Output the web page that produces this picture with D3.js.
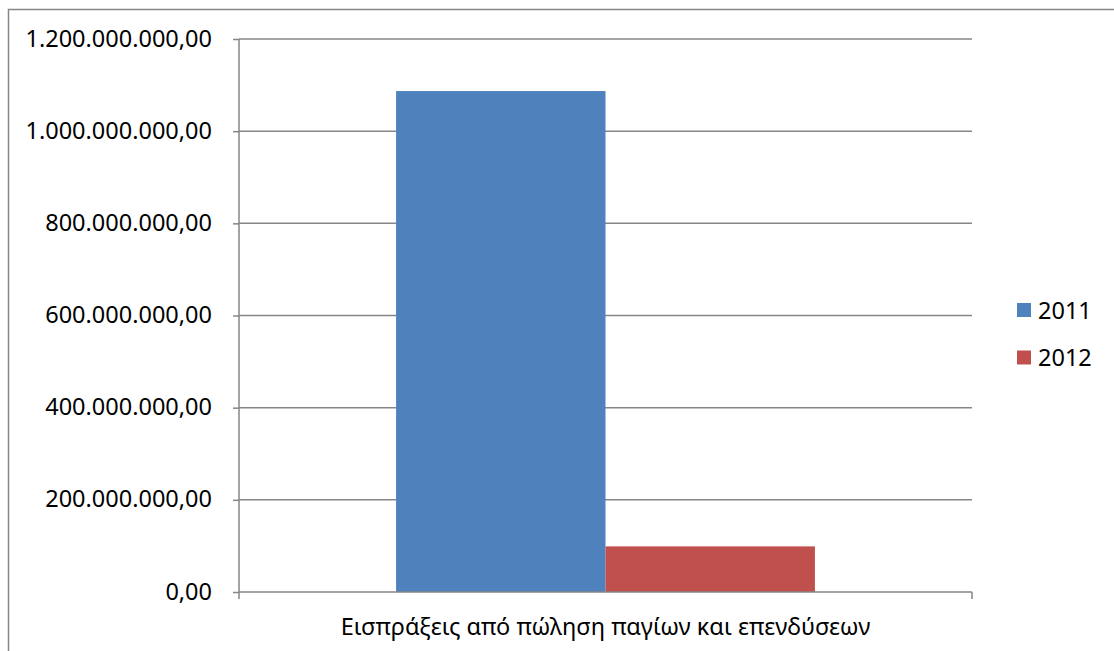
<!DOCTYPE html>
<html>
<head>
<meta charset="utf-8">
<script src="https://cdn.jsdelivr.net/npm/d3@7"></script>
<style>
  html, body { margin: 0; padding: 0; background: #fff; }
  svg { display: block; }
  text { font-family: "Noto Sans", "Open Sans", sans-serif; fill: #000; }
</style>
</head>
<body>
<svg id="chart" width="1114" height="651"></svg>
<script>
// Data
const categories = ["Εισπράξεις από πώληση παγίων και επενδύσεων"];
const seriesNames = ["2011", "2012"];
const seriesColors = ["#4F81BD", "#C0504D"];
const values2011 = [1087000000];
const values2012 = [99000000];
const yTicks = [0, 200000000, 400000000, 600000000, 800000000, 1000000000, 1200000000];

const seriesValues = [values2011, values2012];

const svg = d3.select("#chart");
const W = 1114, H = 651;
const FONT_SIZE = "23.5px";

// Outer chart frame (extends past the right and bottom edges)
svg.append("rect")
  .attr("x", 8.5).attr("y", 9.5)
  .attr("width", W + 20).attr("height", H + 20)
  .attr("fill", "#fff")
  .attr("stroke", "#868686").attr("stroke-width", 1.5);

const plot = { left: 239, right: 972, top: 39, bottom: 592 };

// Greek number format: "." for thousands, "," for decimals
const fmt = v => {
  const s = d3.format(",.2f")(v);
  return s.replace(/,/g, "#").replace(/\./g, ",").replace(/#/g, ".");
};

const y = d3.scaleLinear().domain([0, 1200000000]).range([plot.bottom, plot.top]);
const x0 = d3.scaleBand().domain(categories).range([plot.left, plot.right]).paddingInner(0).paddingOuter(0);
const gapRatio = 1.5; // gap width relative to one bar
const x1 = d3.scaleBand().domain(seriesNames)
  .range([0, x0.bandwidth()])
  .paddingInner(0)
  .paddingOuter(gapRatio / 2);

// Gridlines
const grid = svg.append("g");
grid.selectAll("line").data(yTicks.filter(d => d > 0)).join("line")
  .attr("x1", plot.left).attr("x2", plot.right)
  .attr("y1", d => y(d)).attr("y2", d => y(d))
  .attr("stroke", "#868686").attr("stroke-width", 1.5);

// Bars
const groups = svg.append("g").selectAll("g").data(categories).join("g")
  .attr("transform", d => `translate(${x0(d)},0)`);
seriesNames.forEach((name, si) => {
  groups.append("rect")
    .attr("x", x1(name))
    .attr("width", x1.bandwidth())
    .attr("y", (d, i) => y(seriesValues[si][i]))
    .attr("height", (d, i) => plot.bottom - y(seriesValues[si][i]))
    .attr("fill", seriesColors[si]);
});

// Y axis
const yAxis = svg.append("g")
  .attr("transform", `translate(${plot.left},0)`)
  .call(d3.axisLeft(y).tickValues(yTicks).tickFormat(fmt).tickSize(6).tickPadding(21));
yAxis.select(".domain").attr("stroke", "#868686").attr("stroke-width", 1.5)
  .attr("d", `M0,${plot.top}V${plot.bottom}`);
yAxis.selectAll(".tick line").attr("stroke", "#868686").attr("stroke-width", 1.5);
yAxis.selectAll(".tick text")
  .style("font-family", '"Noto Sans", "Open Sans", sans-serif')
  .style("font-size", FONT_SIZE).attr("fill", "#000").attr("dy", "0.3em");

// X axis
const xAxis = svg.append("g")
  .attr("transform", `translate(0,${plot.bottom})`)
  .call(d3.axisBottom(x0).tickSize(0).tickPadding(0).tickFormat(""));
xAxis.select(".domain").attr("stroke", "#868686").attr("stroke-width", 1.5)
  .attr("d", `M${plot.left},0H${plot.right}`);
xAxis.selectAll(".tick").remove();
// boundary ticks at the category edges
xAxis.selectAll("line.edge").data(x0.range()).join("line")
  .attr("class", "edge")
  .attr("x1", d => d).attr("x2", d => d)
  .attr("y1", 0).attr("y2", 7)
  .attr("stroke", "#868686").attr("stroke-width", 1.5);
xAxis.selectAll("text.cat").data(categories).join("text")
  .attr("class", "cat")
  .attr("x", d => x0(d) + x0.bandwidth() / 2)
  .attr("y", 43)
  .attr("text-anchor", "middle")
  .style("font-size", FONT_SIZE)
  .text(d => d);

// Legend
const legend = svg.append("g").attr("transform", "translate(1017,303)");
const li = legend.selectAll("g").data(seriesNames).join("g")
  .attr("transform", (d, i) => `translate(0,${i * 47.5})`);
li.append("rect").attr("width", 14).attr("height", 14)
  .attr("fill", (d, i) => seriesColors[i]);
li.append("text").attr("x", 21).attr("y", 15.5)
  .style("font-size", FONT_SIZE)
  .text(d => d);
</script>
</body>
</html>
